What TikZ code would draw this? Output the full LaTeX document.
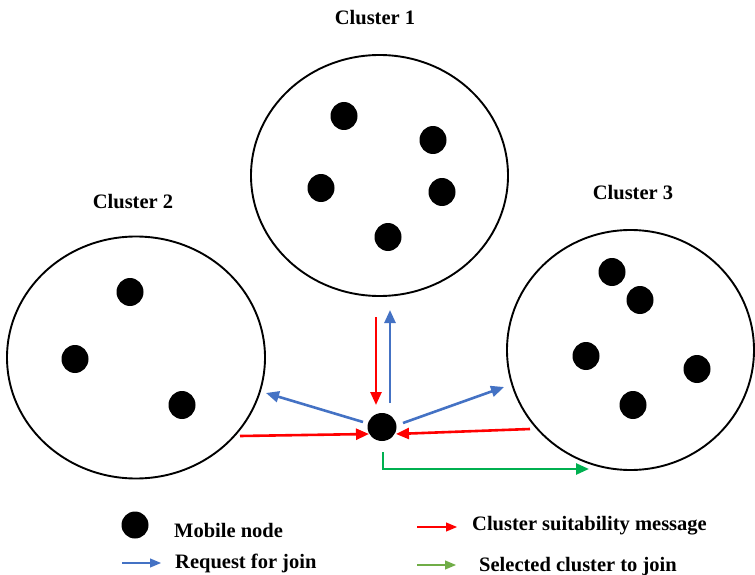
\documentclass[tikz,border=0pt]{standalone}
\usepackage{fontspec}
\setmainfont{Liberation Serif}
\usetikzlibrary{arrows.meta,shapes.geometric}
\definecolor{myred}{HTML}{FF0000}
\definecolor{myblue}{HTML}{4472C4}
\definecolor{mygreen}{HTML}{00B050}
\definecolor{mylgreen}{HTML}{70AD47}
\begin{document}
\begin{tikzpicture}[x=1pt,y=-1pt,
  dot/.style={ellipse,fill=black,inner sep=0pt,minimum width=27pt,minimum height=28pt},
  lbl/.style={font=\fontsize{20.5}{24}\selectfont\bfseries,inner sep=0pt},
  msg/.style={line width=2.6pt,-{Triangle[length=13pt,width=11pt]}},
  leg/.style={line width=1.1pt,-{Triangle[length=11pt,width=9pt]}}]
\useasboundingbox (0,0) rectangle (755,575);
% clusters
\draw[line width=1.9pt] (379.5,175.5) ellipse [x radius=128.5pt, y radius=120.5pt];
\draw[line width=1.9pt] (136,357.5) ellipse [x radius=129pt, y radius=121pt];
\draw[line width=1.9pt] (630.5,350) ellipse [x radius=123.5pt, y radius=120pt];
\node[lbl] (l1) at (375,18) {Cluster 1};
\node[lbl] (l2) at (133,202) {Cluster 2};
\node[lbl] (l3) at (633,193) {Cluster 3};
% cluster 1 nodes
\node[dot] (a1) at (344,116) {};
\node[dot] (a2) at (433,140) {};
\node[dot] (a3) at (321,188) {};
\node[dot] (a4) at (442,192) {};
\node[dot] (a5) at (388,237) {};
% cluster 2 nodes
\node[dot] (b1) at (130,292) {};
\node[dot] (b2) at (75,359) {};
\node[dot] (b3) at (182,405) {};
% cluster 3 nodes
\node[dot] (c1) at (612,272) {};
\node[dot] (c2) at (640,300) {};
\node[dot] (c3) at (586,356) {};
\node[dot] (c4) at (697,369) {};
\node[dot] (c5) at (633,405) {};
% mobile node
\node[dot,minimum width=29pt,minimum height=28pt] (m) at (382,427) {};
% arrow end points
\coordinate (r1s) at (376,317);
\coordinate (r1e) at (376,405);
\coordinate (u1s) at (390,403);
\coordinate (u1e) at (390,310);
\coordinate (u2s) at (363,422);
\coordinate (u2e) at (266,393);
\coordinate (u3s) at (403,423);
\coordinate (u3e) at (504,387);
\coordinate (r2s) at (240,436);
\coordinate (r2e) at (369,434);
\coordinate (r3s) at (530,429);
\coordinate (r3e) at (396,434);
\coordinate (gs) at (383,452);
\coordinate (gc) at (383,469);
\coordinate (ge) at (589,469);
\draw[msg,myred] (r1s) -- (r1e);
\draw[msg,myblue] (u1s) -- (u1e);
\draw[msg,myblue] (u2s) -- (u2e);
\draw[msg,myblue] (u3s) -- (u3e);
\draw[msg,myred] (r2s) -- (r2e);
\draw[msg,myred] (r3s) -- (r3e);
\draw[msg,mygreen] (gs) -- (gc) -- (ge);
% legend
\node[dot,minimum width=27pt,minimum height=27pt] (ld) at (135,525) {};
\node[lbl,anchor=west] (lt1) at (174,530) {Mobile node};
\coordinate (lr1) at (417,527);
\coordinate (lr2) at (457,527);
\draw[leg,myred] (lr1) -- (lr2);
\node[lbl,anchor=west] (lt2) at (472,526) {Cluster suitability message};
\coordinate (lb1) at (122,563);
\coordinate (lb2) at (161,563);
\draw[leg,myblue] (lb1) -- (lb2);
\node[lbl,anchor=west] (lt3) at (175,563) {Request for join};
\coordinate (lg1) at (417,565);
\coordinate (lg2) at (456,565);
\draw[leg,mylgreen] (lg1) -- (lg2);
\node[lbl,anchor=west] (lt4) at (479,567) {Selected cluster to join};
\end{tikzpicture}
\end{document}
